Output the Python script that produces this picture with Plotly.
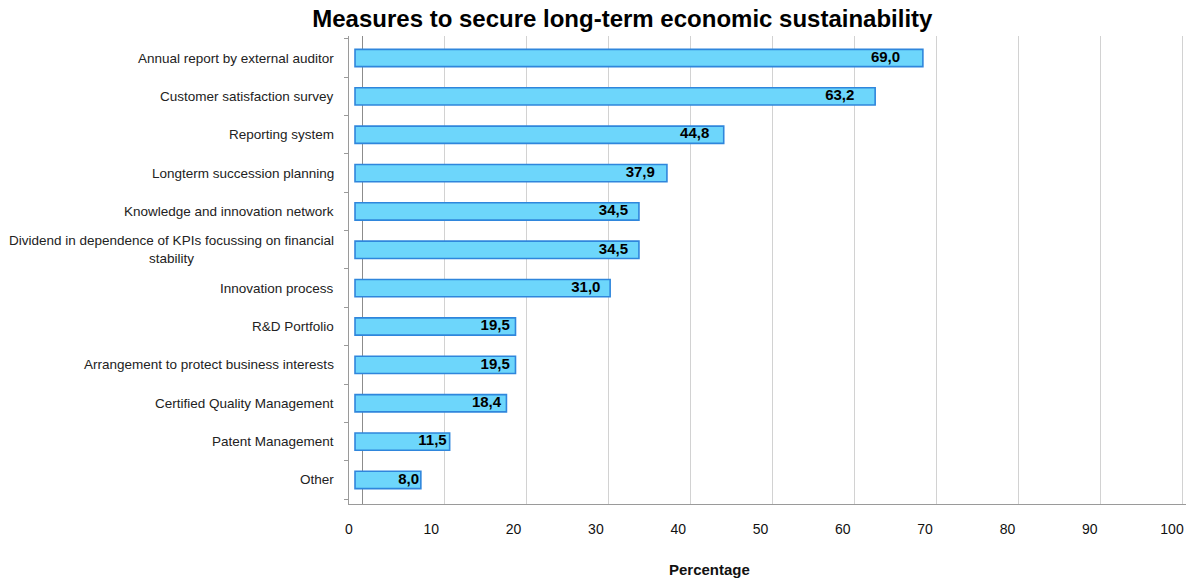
import plotly.graph_objects as go

categories = [
    "Annual report by external auditor",
    "Customer satisfaction survey",
    "Reporting system",
    "Longterm succession planning",
    "Knowledge and innovation network",
    "Dividend in dependence of KPIs focussing on financial<br>stability",
    "Innovation process",
    "R&D Portfolio",
    "Arrangement to protect business interests",
    "Certified Quality Management",
    "Patent Management",
    "Other",
]
values = [69.0, 63.2, 44.8, 37.9, 34.5, 34.5, 31.0, 19.5, 19.5, 18.4, 11.5, 8.0]
x_ticks = [0, 10, 20, 30, 40, 50, 60, 70, 80, 90, 100]
value_labels = [f"{v:.1f}".replace(".", ",") for v in values]

FONT = "Liberation Sans, Arial"
ypos = list(range(len(categories)))

fig = go.Figure()
# bars (front faces) on xaxis
fig.add_trace(go.Bar(
    y=ypos, x=values, orientation="h", width=0.45,
    marker=dict(color="#6dd6fb", line=dict(color="#2f86dc", width=1.6)),
    hoverinfo="skip", xaxis="x", yaxis="y",
))
# front-face tick labels on xaxis2
fig.add_trace(go.Scatter(x=[0, 100], y=[0, 0], xaxis="x2", yaxis="y", mode="markers",
                         marker=dict(opacity=0), hoverinfo="skip", showlegend=False))
# back-wall gridlines on xaxis3
fig.add_trace(go.Scatter(x=[0, 100], y=[0, 0], xaxis="x3", yaxis="y", mode="markers",
                         marker=dict(opacity=0), hoverinfo="skip", showlegend=False))
# value labels (projected positions) on xaxis4
fig.add_trace(go.Scatter(
    x=values, y=ypos, xaxis="x4", yaxis="y", mode="text",
    text=value_labels, textposition="middle left",
    textfont=dict(family=FONT, size=15, color="#000000", weight="bold"),
    hoverinfo="skip", showlegend=False, cliponaxis=False,
))

annotations = []
for i, c in enumerate(categories):
    annotations.append(dict(
        x=-0.0155, xref="paper", y=i, yref="y",
        text=c, showarrow=False, xanchor="right", yanchor="middle",
        align="center",
        font=dict(family=FONT, size=13.5, color="#222222"),
    ))
annotations.append(dict(
    x=0.431, xref="paper", y=-0.139, yref="paper",
    text="<b>Percentage</b>", showarrow=False, xanchor="center", yanchor="middle",
    font=dict(family=FONT, size=15, color="#111111"),
))

hidden = dict(showgrid=False, showline=False, zeroline=False, showticklabels=False,
              ticks="", automargin=False)

fig.update_layout(
    width=1190, height=578,
    margin=dict(l=349, r=4, t=36, b=74),
    paper_bgcolor="white", plot_bgcolor="white",
    showlegend=False,
    title=dict(
        text="<b>Measures to secure long-term economic sustainability</b>",
        x=0.523, xref="container", xanchor="center",
        y=0.968, yref="container", yanchor="middle",
        font=dict(family=FONT, size=24, color="#000000"),
    ),
    annotations=annotations,
    xaxis=dict(range=[-0.73, 100.97], **hidden),
    xaxis2=dict(
        overlaying="x", side="bottom", anchor="y",
        range=[0, 101.7], tickvals=x_ticks, ticktext=[str(t) for t in x_ticks],
        showgrid=False, zeroline=False, ticks="",
        showline=True, linecolor="#9a9a9a", linewidth=1,
        ticklabelstandoff=12, automargin=False,
        tickfont=dict(family=FONT, size=14, color="#111111"),
    ),
    xaxis3=dict(
        overlaying="x", side="bottom", anchor="y",
        range=[-1.70, 100.4], tickvals=x_ticks, showticklabels=False,
        showgrid=True, gridcolor="#d2d2d2", gridwidth=1,
        zeroline=True, zerolinecolor="#8c8c8c", zerolinewidth=1,
        showline=False, ticks="", automargin=False,
    ),
    xaxis4=dict(overlaying="x", anchor="y", range=[-0.888, 105.26], **hidden),
    yaxis=dict(
        range=[11.627, -0.574], tickvals=[k - 0.5 for k in range(len(categories) + 1)],
        showticklabels=False, automargin=False,
        showgrid=False, showline=True, linecolor="#9a9a9a", linewidth=1,
        ticks="outside", ticklen=4, tickcolor="#9a9a9a", zeroline=False,
    ),
)

fig.write_html("out.html")
